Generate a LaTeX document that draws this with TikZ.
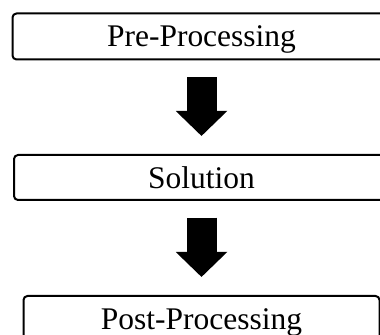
\documentclass[tikz,border=0pt]{standalone}
\usepackage{fontspec}
\setmainfont{Liberation Serif}
\usetikzlibrary{arrows.meta}
\tikzset{
	stagebox/.style={draw, line width=0.1cm, rounded corners=0.2cm, minimum height=2.3cm, inner sep=0pt, text depth=0pt, font=\fontsize{44.8}{54}\selectfont},
	bigarrow/.style={line width=1.5cm, -{Triangle[width=2.5cm, length=1.25cm]}, shorten <=0.83cm, shorten >=0.9cm}
}

\begin{document}
\begin{tikzpicture}
			%%%%% START %%%%%
			
			\useasboundingbox (0, 0) rectangle (19, 16.75);
			
			\node[stagebox, minimum width=18.9cm] (pre) at (10.075, 14.925) {Pre-Processing};
			\node[stagebox, minimum width=18.75cm, minimum height=2.25cm] (sol) at (10.075, 7.875) {Solution};
			\node[stagebox, minimum width=17.8cm] (post) at (10.075, 0.8) {Post-Processing};
			
			\draw[bigarrow] (pre.south) -- (sol.north);
			\draw[bigarrow] (sol.south) -- (post.north);
			
			%%%%% END %%%%%
		\end{tikzpicture}
\end{document}
